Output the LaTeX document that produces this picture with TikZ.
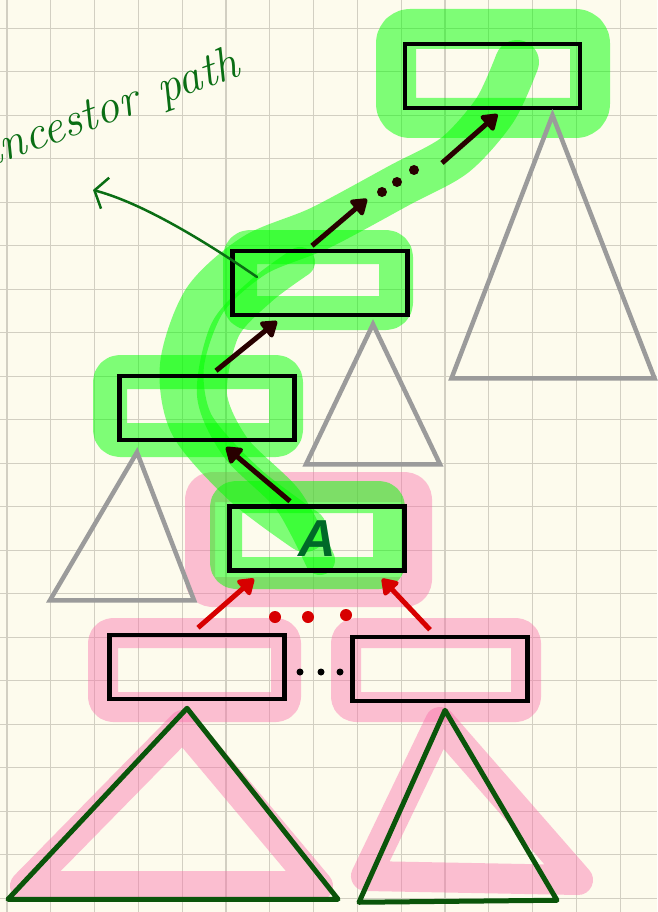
\documentclass[tikz,border=0pt]{standalone}
\usepackage{fontspec}
\usepackage{tikz}
\usetikzlibrary{arrows.meta}
\newfontfamily\lsans{Liberation Sans}
\definecolor{paper}{RGB}{253,251,237}
\definecolor{gridc}{RGB}{210,207,194}
\definecolor{arrc}{RGB}{40,0,0}
\definecolor{redc}{RGB}{215,0,0}
\definecolor{subc}{RGB}{155,155,155}
\definecolor{leafc}{RGB}{10,85,10}
\definecolor{inkc}{RGB}{10,110,20}
\definecolor{acol}{RGB}{0,105,40}
\definecolor{hlpink}{RGB}{250,110,170}
\definecolor{hlgreen}{RGB}{0,255,0}
\tikzset{
  bx/.style = {draw=black, line width=4.5pt, rectangle, minimum width=175pt, minimum height=64pt, inner sep=0pt},
  subtri/.style = {draw=subc, line width=4.5pt},
  leaftri/.style = {draw=leafc, line width=5pt, line join=round},
  parr/.style = {draw=arrc, line width=5pt, -{Triangle[length=17pt,width=22pt,round]}},
  rarr/.style = {draw=redc, line width=5pt, -{Triangle[length=17pt,width=22pt,round]}},
  ghl/.style = {draw=hlgreen, draw opacity=0.5, line width=34pt, line cap=round, line join=round},
  phl/.style = {draw=hlpink, draw opacity=0.43, line width=30pt, line cap=round, line join=round},
  note/.style = {draw=inkc, line width=2.5pt, line cap=round, -{Straight Barb[length=11pt,width=32pt]}}
}
\begin{document}
\begin{tikzpicture}[x=1pt, y=-1pt]
\fill[paper] (0,0) rectangle (657,912);
\useasboundingbox (0,0) rectangle (657,912);
\foreach \i in {0,...,14} \draw[gridc, line width=1.1pt] (7+43.8*\i,0) -- (7+43.8*\i,912);
\foreach \j in {0,...,20} \draw[gridc, line width=1.1pt] (0,28.2+43.5*\j) -- (657,28.2+43.5*\j);

\draw[phl, rounded corners=12pt] (200,487) rectangle (417,592);
\draw[phl, rounded corners=10pt] (103,633) rectangle (286,707);
\draw[phl, rounded corners=10pt] (346,633) rectangle (526,707);
\draw[phl] (183,725) -- (25,886) -- (318,886) -- cycle;
\draw[phl] (440,722) -- (366,876) -- (578,880) -- cycle;

\draw[ghl, rounded corners=14pt, line width=40pt] (396,29) rectangle (590,118);
\draw[ghl, rounded corners=10pt] (240,247) rectangle (396,313);
\draw[ghl, rounded corners=10pt] (110,372) rectangle (286,440);
\draw[ghl, rounded corners=10pt, line width=32pt] (226,497) rectangle (389,573);
\draw[ghl, line width=44pt] plot[smooth] coordinates {(305,530) (245,485) (192,425) (182,365) (205,300) (255,255) (320,228) (400,185) (455,155) (495,110) (517,62)};
\draw[ghl, line width=30pt] plot[smooth] coordinates {(320,560) (288,500) (236,448) (212,395) (225,330) (262,290) (300,262)};

\node[bx] (top) at (492.5,76) {};
\node[bx] (anc2) at (320,283) {};
\node[bx] (anc1) at (207,408) {};
\node[bx, font=\lsans\bfseries\itshape\fontsize{52}{52}\selectfont, text=acol] (nodeA) at (317,538.5) {A};
\node[bx] (childL) at (197,667) {};
\node[bx] (childR) at (440,669) {};

\draw[subtri] ([xshift=60pt,yshift=-5pt]top.south) -- ++(-101,263) -- ++(203,0) -- cycle;
\draw[subtri] ([xshift=53pt,yshift=-7pt]anc2.south) -- ++(-67,140) -- ++(134,0) -- cycle;
\draw[subtri] ([xshift=-70pt,yshift=-10pt]anc1.south) -- ++(-87,148) -- ++(144,0) -- cycle;
\draw[leaftri] ([xshift=-10pt,yshift=-7pt]childL.south) -- ++(-179,191) -- ++(330,0) -- cycle;
\draw[leaftri] ([xshift=5pt,yshift=-7pt]childR.south) -- ++(-86,192) -- ++(198,-2) -- cycle;

\coordinate (dotA) at (367,199);
\coordinate (dotB) at (442,163);
\draw[parr] ([xshift=-27pt,yshift=3pt]nodeA.north) -- ([xshift=19pt,yshift=-5pt]anc1.south);
\draw[parr] ([xshift=9pt,yshift=3pt]anc1.north) -- ([xshift=-43pt,yshift=-4pt]anc2.south);
\draw[parr] ([xshift=-8pt,yshift=3pt]anc2.north) -- (dotA);
\draw[parr] (dotB) -- ([xshift=5pt,yshift=-4pt]top.south);
\foreach \p in {(382,192),(397,182),(414,170)} \fill[arrc] \p circle (5pt);

\draw[rarr] ([xshift=1pt,yshift=5pt]childL.north) -- ([xshift=-63pt,yshift=-6pt]nodeA.south);
\draw[rarr] ([xshift=-10pt,yshift=5pt]childR.north) -- ([xshift=65pt,yshift=-6pt]nodeA.south);
\foreach \p in {(275,617),(308,617),(346,615)} \fill[redc] \p circle (6pt);
\foreach \p in {(300,672),(321,672),(340,672)} \fill[black] \p circle (3.5pt);

\node[text=inkc, font=\fontsize{48}{52}\selectfont\itshape, rotate=20, anchor=base west, inner sep=0pt] (lbl) at (-18,170) {ancestor\hspace{22pt}path};
\coordinate (tipN) at (93,190);
\draw[note] ([xshift=-63pt,yshift=6pt]anc2.center) .. controls (225,255) and (150,205) .. (tipN);
\end{tikzpicture}
\end{document}
